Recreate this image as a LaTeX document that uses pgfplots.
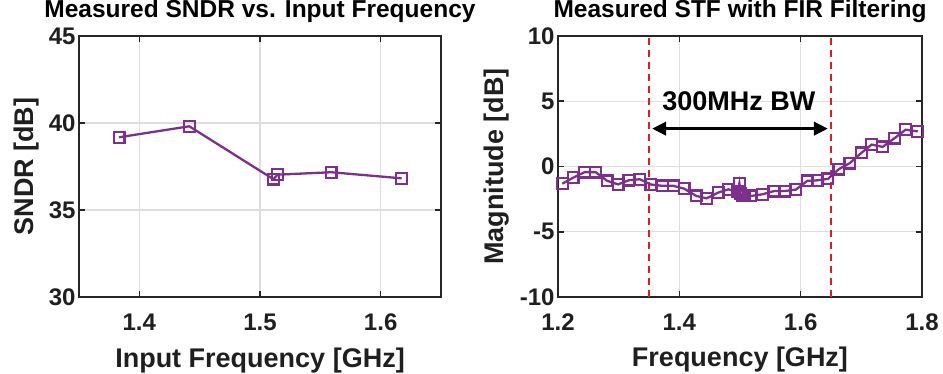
\documentclass[border=0pt]{standalone}
\usepackage{pgfplots}
\pgfplotsset{compat=1.18}
\usetikzlibrary{arrows.meta}
\usepackage{fontspec}
\setmainfont{Liberation Sans}
\definecolor{mpurple}{RGB}{126,47,142}
\definecolor{mred}{RGB}{220,30,36}
\definecolor{axgray}{RGB}{38,38,38}
\begin{document}
\begin{tikzpicture}
\path[use as bounding box] (0,0) rectangle (943pt,374pt);
\pgfplotsset{
  mystyle/.style={
    scale only axis,
    anchor=south west,
    height=261pt,
    axis line style={line width=1.8pt, color=axgray},
    every tick/.style={line width=1.6pt, color=axgray},
    major tick length=6pt,
    tick align=inside,
    grid=major,
    major grid style={line width=1.3pt, color=black!13},
    /pgf/number format/assume math mode=true,
    tick label style={font=\bfseries\fontsize{24}{24}\selectfont, color=black!88},
    xticklabel style={anchor=base, yshift=-34pt},
    label style={font=\bfseries\fontsize{27}{27}\selectfont, color=black!88},
    title style={font=\bfseries\fontsize{24.5}{25}\selectfont, at={(axis description cs:0.5,1.046)}, anchor=base},
    /pgf/number format/fixed,
  }
}
\begin{axis}[mystyle,
  at={(79pt,77pt)}, width=362pt,
  xmin=1.35, xmax=1.65, ymin=30, ymax=45,
  xtick={1.4,1.5,1.6}, ytick={30,35,40,45},
  xticklabels={1.4,1.5,1.6},
  title={Measured SNDR vs. Input Frequency},
  xlabel={Input Frequency [GHz]},
  ylabel={SNDR [dB]},
  xlabel style={at={(axis description cs:0.5,-0.272)}, anchor=base},
  ylabel style={at={(axis description cs:-0.127,0.5)}, anchor=base},
]
\addplot[color=mpurple, line width=2.3pt, mark=square, mark size=5.4pt, mark options={line width=2.2pt, solid}]
coordinates {(1.3832,39.18) (1.4414,39.81) (1.5111,36.77) (1.5146,37.03) (1.5590,37.17) (1.6174,36.82)};
\end{axis}
\begin{axis}[mystyle,
  at={(558pt,77pt)}, width=364pt,
  xmin=1.2, xmax=1.8, ymin=-10, ymax=10,
  xtick={1.2,1.4,1.6,1.8}, ytick={-10,-5,0,5,10},
  xticklabels={1.2,1.4,1.6,1.8},
  title={Measured STF with FIR Filtering},
  xlabel={Frequency [GHz]},
  ylabel={Magnitude [dB]},
  xlabel style={at={(axis description cs:0.5,-0.268)}, anchor=base},
  ylabel style={at={(axis description cs:-0.151,0.5)}, anchor=base},
]
\addplot[color=mred, line width=2pt, dash pattern=on 7pt off 5pt] coordinates {(1.35,-10) (1.35,10)};
\addplot[color=mred, line width=2pt, dash pattern=on 7pt off 5pt] coordinates {(1.65,-10) (1.65,10)};
\addplot[color=mpurple, line width=2.3pt, mark=square, mark size=5.4pt, mark options={line width=2.2pt, solid}]
coordinates {
(1.207,-1.32) (1.225,-0.86) (1.244,-0.43) (1.262,-0.43) (1.281,-1.10) (1.299,-1.37)
(1.317,-1.05) (1.335,-0.98) (1.353,-1.38) (1.372,-1.48) (1.390,-1.48) (1.408,-1.70)
(1.428,-2.26) (1.445,-2.44) (1.464,-2.00) (1.481,-1.75) (1.496,-1.95) (1.499,-1.28)
(1.501,-2.10) (1.504,-2.20) (1.508,-2.26) (1.518,-2.26) (1.537,-2.13) (1.556,-1.88)
(1.574,-1.88) (1.592,-1.77) (1.611,-1.10) (1.627,-1.06) (1.645,-0.95) (1.663,-0.20)
(1.681,0.26) (1.700,1.04) (1.717,1.68) (1.735,1.50) (1.755,2.18) (1.773,2.82) (1.793,2.69)
};
\addplot[black, line width=3.5pt, {Triangle[length=14pt,width=13pt]}-{Triangle[length=14pt,width=13pt]}] coordinates {(1.355,2.9) (1.645,2.9)};
\node[font=\bfseries\fontsize{27}{27}\selectfont, anchor=base] at (axis cs:1.498,4.3) {300MHz BW};
\end{axis}
\end{tikzpicture}
\end{document}
